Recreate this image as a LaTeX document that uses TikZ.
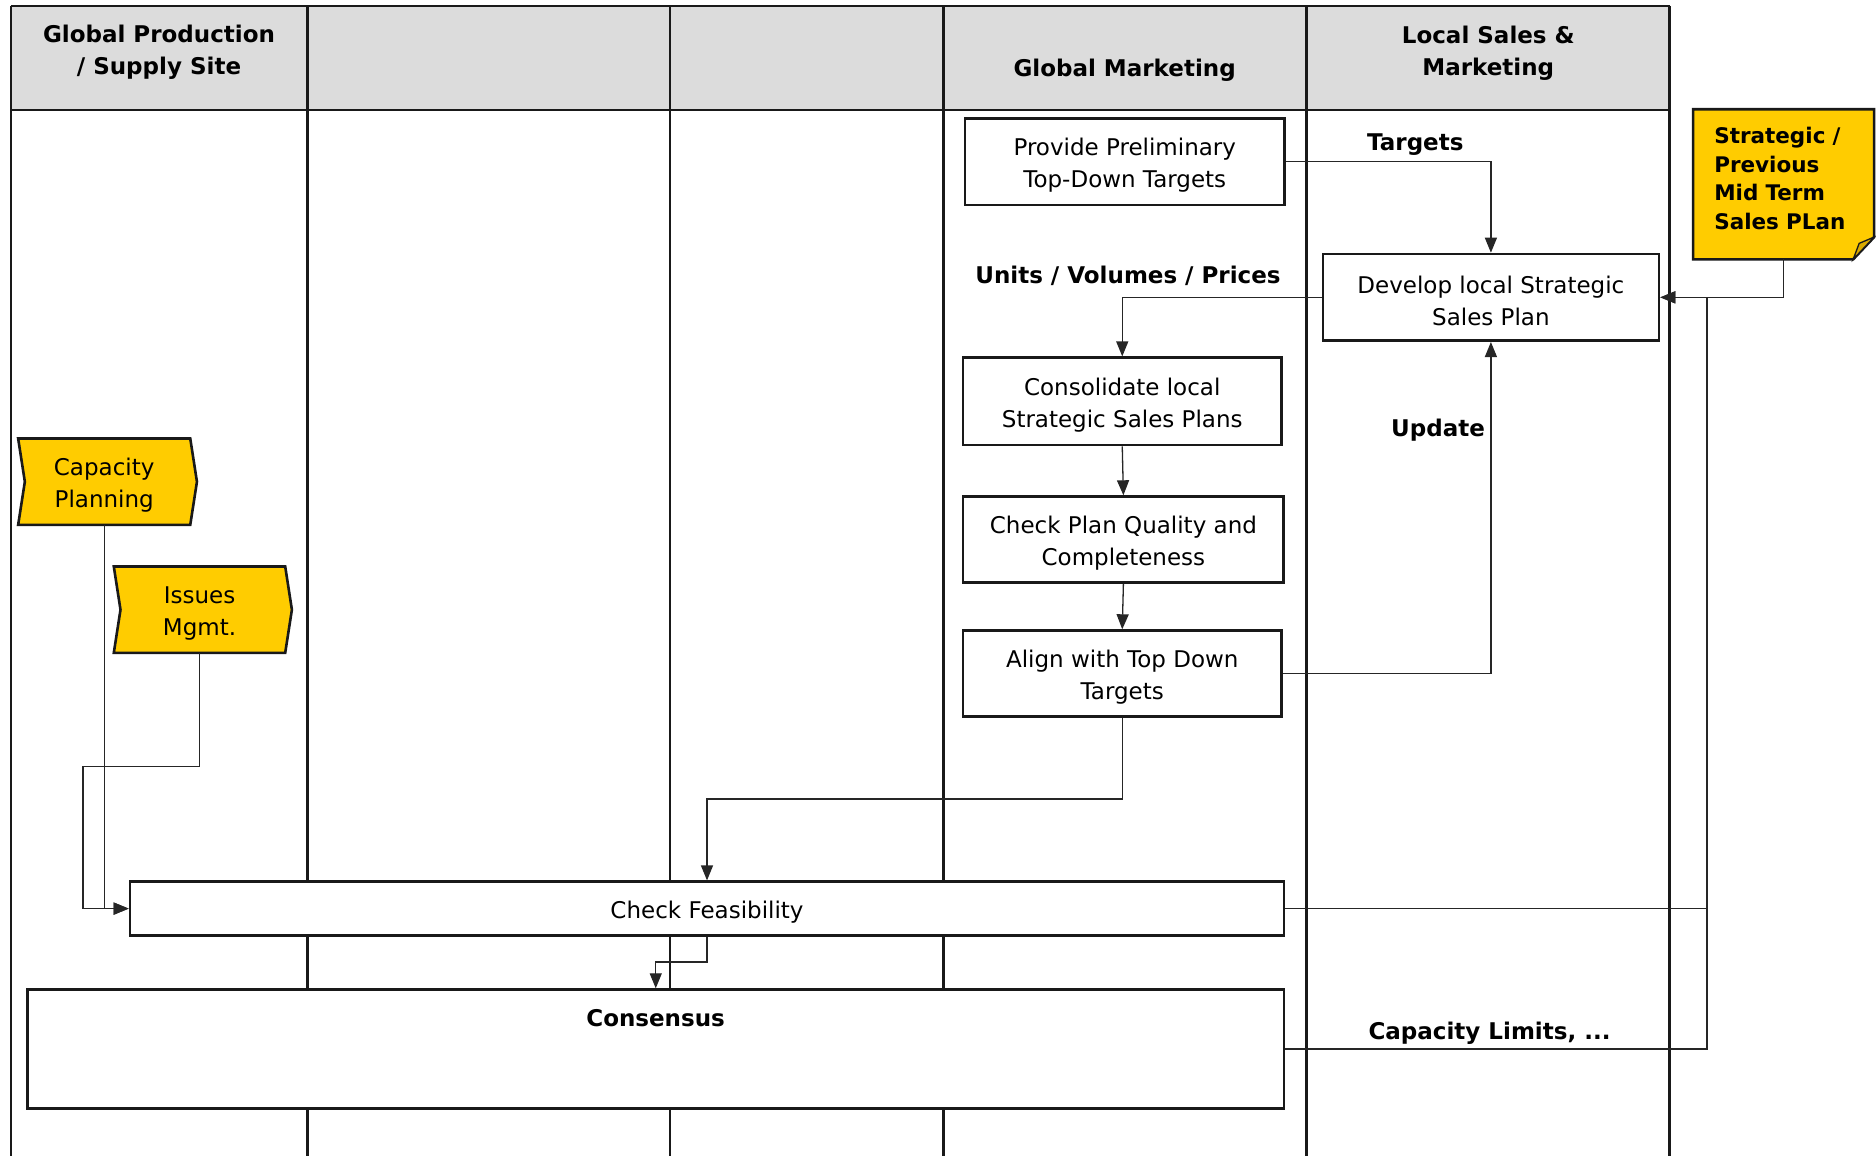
\documentclass[tikz,border=0pt]{standalone}
\usepackage{fontspec}
\setmainfont{DejaVu Sans}
\usetikzlibrary{arrows.meta,calc,backgrounds}
\newcommand{\fsz}{\fontsize{23}{32}\selectfont}
\newcommand{\notesz}{\fontsize{21.5}{28.7}\selectfont}
% a taller first line sets the text a little lower in its box
\newcommand{\tstr}{\rule{0pt}{24.5pt}}
\definecolor{hdrgray}{HTML}{DCDCDC}
\definecolor{flagyellow}{HTML}{FFCC00}
\definecolor{folddark}{HTML}{D9AA00}
\tikzset{
  lane/.style={line width=2.6pt, draw=black!90},
  procbox/.style={draw=black!90, line width=2.6pt, fill=white, align=center, inner sep=0pt, font=\fsz},
  flow/.style={draw=black!85, line width=1.3pt, -{Triangle[length=15pt,width=12pt]}},
  link/.style={draw=black!85, line width=1.3pt},
  lbl/.style={font=\fsz\bfseries, inner sep=0pt, execute at begin node={\rule{0pt}{21.5pt}}},
  hdr/.style={font=\fsz\bfseries, align=center, inner sep=0pt},
  flagtxt/.style={font=\fsz, align=center, inner sep=0pt},
  flagshape/.style={draw=black!90, line width=2.6pt, fill=flagyellow, line join=miter},
}
\begin{document}
\begin{tikzpicture}[x=1pt,y=-1pt]
\useasboundingbox (0,0) rectangle (1876,1156);

% swimlane frame and header row
\fill[hdrgray] (10.8,6) rectangle (1669.5,110);
\draw[lane] (10.8,6) -- (1669.5,6);
\draw[lane] (10.8,110) -- (1669.5,110);
\foreach \lx in {10.8,307.5,670,943.6,1669.5}
  \draw[lane] (\lx,6) -- (\lx,1156);
\draw[lane, line width=3.2pt] (1306.6,6) -- (1306.6,1156);

\node[hdr] (h1) at (159,49) {\tstr Global Production\\/ Supply Site};
\node[hdr] (h4) at (1124.6,67) {\tstr Global Marketing};
\node[hdr] (h5) at (1488.3,50) {\tstr Local Sales \&\\Marketing};

% process steps
\node[procbox, minimum width=319.5pt, minimum height=86.7pt] (provide) at (1124.75,161.65) {\tstr Provide Preliminary\\Top-Down Targets};
\node[procbox, minimum width=336.2pt, minimum height=86.7pt] (develop) at (1490.9,297.35) {\tstr Develop local Strategic\\Sales Plan};
\node[procbox, minimum width=318.3pt, minimum height=87.4pt] (consol) at (1122.25,401.4) {\tstr Consolidate local\\Strategic Sales Plans};
\node[procbox, minimum width=320.6pt, minimum height=86pt] (check) at (1123.4,539.6) {\tstr Check Plan Quality and\\Completeness};
\node[procbox, minimum width=318.3pt, minimum height=86pt] (align) at (1122.25,673.6) {\tstr Align with Top Down\\Targets};
\node[procbox, minimum width=1154pt, minimum height=53.8pt] (feas) at (707,908.6) {\tstr Check Feasibility};
\node[procbox, minimum width=1256.5pt, minimum height=118.7pt, anchor=north] (cons) at (655.75,988.3) {};
\node[lbl] (consl) at (655.6,1015.7) {Consensus};

% input flags
\node[flagtxt, minimum width=171.7pt, minimum height=86pt] (cap) at (104.2,481.7) {\tstr Capacity\\Planning};
\node[flagtxt, minimum width=171pt, minimum height=86pt] (issues) at (199.5,609.7) {\tstr Issues\\Mgmt.};
\node[font=\notesz\bfseries, align=left, text width=138.7pt, inner xsep=21pt, inner ysep=0pt,
      minimum height=149.7pt, execute at end node={\rule[-12pt]{0pt}{12pt}}]
      (note) at (1783.6,184.3) {Strategic /\\Previous\\Mid Term\\Sales PLan};

\begin{scope}[on background layer]
  \filldraw[flagshape] (cap.north west) -- (cap.north east) -- ([xshift=6.7pt]cap.east)
    -- (cap.south east) -- (cap.south west) -- ([xshift=6.7pt]cap.west) -- cycle;
  \filldraw[flagshape] (issues.north west) -- (issues.north east) -- ([xshift=6.7pt]issues.east)
    -- (issues.south east) -- (issues.south west) -- ([xshift=6.7pt]issues.west) -- cycle;
  \filldraw[flagshape] (note.north west) -- (note.north east) -- ([yshift=22.3pt]note.south east)
    -- ([xshift=-21pt]note.south east) -- (note.south west) -- cycle;
  \filldraw[draw=black!90, line width=1.3pt, fill=folddark] ([xshift=-21pt]note.south east)
    -- ([yshift=22.3pt]note.south east) -- ([xshift=-15pt,yshift=16pt]note.south east) -- cycle;
\end{scope}

% connector labels
\node[lbl] (tgt) at (1415.3,142.4) {Targets};
\node[lbl] (uvp) at (1128,274) {Units / Volumes / Prices};
\node[lbl] (upd) at (1438,428.3) {Update};
\node[lbl] (caplim) at (1489.5,1031.3) {Capacity Limits, ...};

% bend points
\coordinate (k1) at (1122.25,799);
\coordinate (k2) at (707,962);
\coordinate (k3) at (83,766.7);
\coordinate (k4) at (1707,297.35);

% connectors
\draw[flow] (provide.east) -| (develop.north);
\draw[flow] (develop.west) -| (consol.north);
\draw[flow] (consol.south) -- (check.north);
\draw[flow] (check.south) -- (align.north);
\draw[flow] (align.east) -| (develop.south);
\draw[flow] (align.south) -- (k1) -| (feas.north);
\draw[flow] (feas.south) -- (k2) -| (cons.north);
\draw[flow] (cap.south) |- (feas.west);
\draw[flow] (issues.south) |- (k3) |- (feas.west);
\draw[flow] (note.south) |- (develop.east);
\draw[flow] (feas.east) -| (k4) -- (develop.east);
\draw[link] (cons.east) -| (k4 |- feas.east);
\end{tikzpicture}
\end{document}
